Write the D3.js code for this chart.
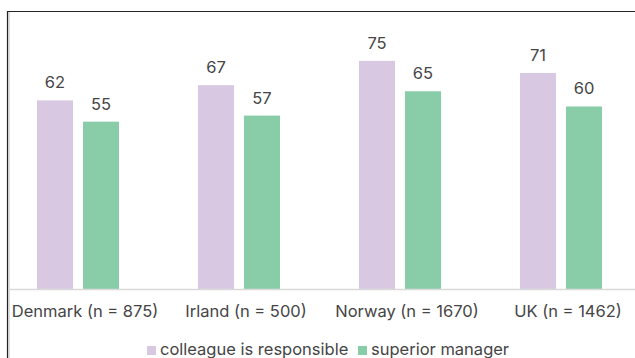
<!DOCTYPE html>
<html><head><meta charset="utf-8">
<script src="https://cdn.jsdelivr.net/npm/d3@7"></script>
<style>body{margin:0;background:#fff;}svg{display:block;font-family:Inter,sans-serif;}</style>
</head><body><svg id="c" width="635" height="358"></svg>
<script>
const categories = ["Denmark (n = 875)", "Irland (n = 500)", "Norway (n = 1670)", "UK (n = 1462)"];
const seriesNames = ["colleague is responsible", "superior manager"];
const colleague = [62, 67, 75, 71];
const superior = [55, 57, 65, 60];
const colors = ["#d9c8e2", "#88cca8"];

const svg = d3.select("#c");
const W = 635, H = 358;
const base = 289;
const FONT = "Inter,sans-serif";
const TXT = "#454545";
const x0 = d3.scaleBand().domain(categories).range([-2.5, 641.5]);
const x1 = d3.scaleBand().domain(seriesNames).range([0, 82]).paddingInner(10/46);
const y = d3.scaleLinear().domain([0, 95]).range([base, 0]);

// frame
svg.append("path").attr("d", `M7.5,${H} V11.5 H${W}`).attr("fill","none").attr("stroke","#222").attr("stroke-width",1.2);
svg.append("line").attr("x1",9).attr("x2",9).attr("y1",12).attr("y2",H).attr("stroke","#bbb").attr("stroke-width",1);

const data = categories.map((c,i)=>({cat:c, vals:[colleague[i], superior[i]]}));
const g = svg.append("g");
const groups = g.selectAll("g.grp").data(data).join("g")
  .attr("transform", d => `translate(${x0(d.cat) + x0.bandwidth()/2 - 41},0)`);
groups.selectAll("rect").data(d => d.vals.map((v,j)=>({v, s:seriesNames[j], j}))).join("rect")
  .attr("x", d => x1(d.s)).attr("width", x1.bandwidth())
  .attr("y", d => y(d.v)).attr("height", d => base - y(d.v))
  .attr("fill", d => colors[d.j]);
groups.selectAll("text").data(d => d.vals.map((v,j)=>({v, s:seriesNames[j], j}))).join("text")
  .attr("x", d => x1(d.s) + x1.bandwidth()/2).attr("y", d => y(d.v) - 12)
  .attr("text-anchor","middle").attr("font-size",16.5).attr("fill",TXT)
  .text(d => d.v);

// baseline axis
const axis = d3.axisBottom(x0).tickSize(0).tickPadding(0);
const ax = svg.append("g").attr("transform", `translate(0,${base})`).call(axis);
ax.select(".domain").attr("d", `M8,0.5H${W}`).attr("stroke","#d9d9d9").attr("stroke-width",1.5);
ax.selectAll(".tick").attr("transform", d => `translate(${x0(d)+x0.bandwidth()/2+7},0)`);
ax.selectAll("text").attr("y",28).attr("dy",null).attr("font-size",16.5).attr("fill",TXT).attr("font-family",FONT);

// legend
const leg = svg.append("g").attr("transform","translate(147,355)");
const items = [{n:seriesNames[0], x:0, c:colors[0]},{n:seriesNames[1], x:211, c:colors[1]}];
items.forEach(it=>{
  leg.append("rect").attr("x",it.x).attr("y",-9).attr("width",9).attr("height",9).attr("fill",it.c);
  leg.append("text").attr("x",it.x+13).attr("y",0).attr("font-size",16.5).attr("fill",TXT).text(it.n);
});
</script></body></html>
